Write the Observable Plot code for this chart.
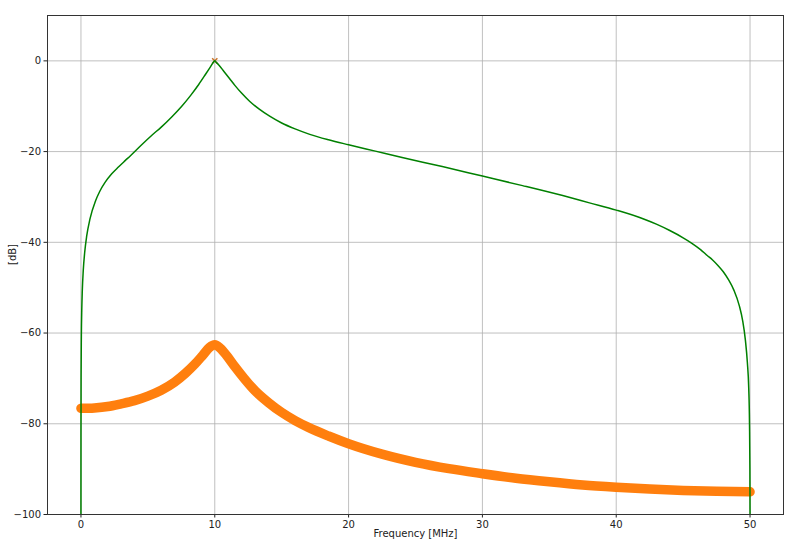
<!DOCTYPE html>
<html><head><meta charset="utf-8">
<script src="https://cdn.jsdelivr.net/npm/d3@7"></script>
<script src="https://cdn.jsdelivr.net/npm/@observablehq/plot@0.6"></script>
<style>body{margin:0;background:#fff} svg{display:block}</style>
</head><body><div id="chart"></div>
<script>
const greenFreq = [0, 0.002, 0.01, 0.03, 0.06, 0.1, 0.17, 0.28, 0.43, 0.67, 1.1, 1.4, 1.8, 2.3, 2.8, 3.3, 3.7, 4.5, 5.3, 6.0, 6.8, 7.5, 8.2, 8.8, 9.3, 9.7, 9.9, 10, 10.1, 10.3, 10.7, 11.1, 11.5, 12.0, 12.6, 13.3, 14.1, 15.0, 16.0, 17.1, 18.5, 20, 22, 24, 27, 30, 33, 36, 38, 40, 42, 43, 44, 45, 45.6, 46.3, 46.8, 47.2, 47.6, 48.0, 48.4, 48.8, 49.2, 49.45, 49.65, 49.8, 49.9, 49.96, 49.99, 50];
const greenDb = [-100, -83, -69.8, -60.7, -55, -50.7, -46.3, -42.2, -38.6, -34.9, -30.8, -28.8, -26.8, -24.9, -23.4, -22.0, -20.9, -18.6, -16.4, -14.6, -12.3, -10.1, -7.6, -5.2, -3.0, -1.2, -0.3, 0, -0.3, -0.9, -2.4, -3.9, -5.4, -7.1, -8.9, -10.6, -12.2, -13.7, -15.0, -16.2, -17.4, -18.5, -19.9, -21.3, -23.3, -25.4, -27.5, -29.7, -31.3, -32.9, -34.8, -36.0, -37.4, -39.0, -40.1, -41.6, -42.9, -43.9, -45.1, -46.5, -48.3, -50.6, -54, -57.3, -61.5, -66.5, -72, -80, -90, -100];
const orangeFreq = [0, 1, 2, 3, 4, 5, 6, 7, 7.8, 8.5, 9.1, 9.6, 10, 10.4, 10.9, 11.5, 12.2, 13, 14, 15, 16, 17, 18.5, 20, 22.5, 25, 27.5, 30, 32.5, 35, 37.5, 40, 42.5, 45, 47.5, 50];
const orangeDb = [-76.6, -76.5, -76.2, -75.6, -74.9, -73.9, -72.6, -70.8, -68.9, -66.9, -64.9, -63.2, -62.6, -63.3, -65.0, -67.4, -70.0, -72.7, -75.3, -77.5, -79.3, -80.8, -82.7, -84.4, -86.7, -88.5, -89.9, -91.0, -92.0, -92.8, -93.5, -94.0, -94.4, -94.7, -94.9, -95.0];
const peakFreq = [10];
const peakDb = [0];
const xTicks = [0, 10, 20, 30, 40, 50];
const yTicks = [0, -20, -40, -60, -80, -100];
const xLabel = "Frequency [MHz]";
const yLabel = "[dB]";

const green = greenFreq.map((f, i) => ({f, v: greenDb[i]}));
const orange = orangeFreq.map((f, i) => ({f, v: orangeDb[i]}));
const peak = peakFreq.map((f, i) => ({f, v: peakDb[i]}));
const fmt = d => d < 0 ? "\u2212" + Math.abs(d) : String(d);

const chart = Plot.plot({
  width: 800, height: 549,
  marginLeft: 47, marginRight: 17, marginTop: 15, marginBottom: 35,
  style: {fontFamily: "DejaVu Sans", fontSize: "10px", color: "#222", background: "#fff"},
  x: {domain: [-2.5, 52.5], ticks: xTicks, label: null},
  y: {domain: [-100, 10], ticks: yTicks, label: null},
  marks: [
    Plot.gridX(xTicks, {stroke: "#b0b0b0", strokeOpacity: 1, strokeWidth: 0.8}),
    Plot.gridY(yTicks, {stroke: "#b0b0b0", strokeOpacity: 1, strokeWidth: 0.8}),
    Plot.axisX(xTicks, {tickSize: 3.5, tickPadding: 3, tickFormat: fmt}),
    Plot.axisY(yTicks, {tickSize: 3.5, tickPadding: 3, tickFormat: fmt}),
    Plot.line(orange, {x: "f", y: "v", stroke: "#ff7f0e", strokeWidth: 9.5, curve: "monotone-x", clip: true}),
    Plot.dot(peak, {x: "f", y: "v", symbol: "times", r: 2.5, stroke: "#c8742a", strokeWidth: 1.5}),
    Plot.line(green, {x: "f", y: "v", stroke: "#008000", strokeWidth: 1.5, curve: "monotone-x", clip: true}),
    Plot.frame({stroke: "#333", strokeWidth: 1}),
    Plot.text([xLabel], {text: d => d, frameAnchor: "bottom", dy: 22, fill: "#222"}),
    Plot.text([yLabel], {text: d => d, frameAnchor: "left", dx: -35, rotate: -90, fill: "#222"})
  ]
});
document.getElementById("chart").appendChild(chart);
</script>
</body></html>
